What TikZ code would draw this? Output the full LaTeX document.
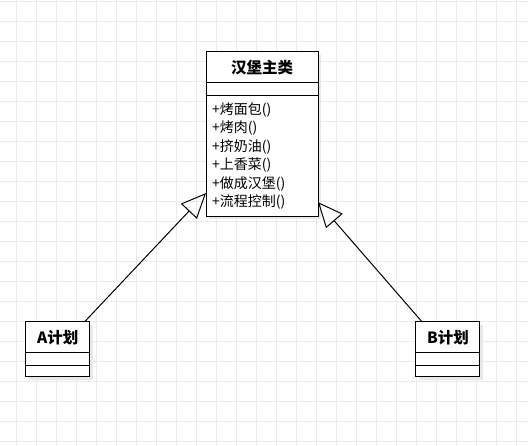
\documentclass[tikz,border=0pt]{standalone}
\usepackage{fontspec}
\setmainfont{Noto Sans CJK SC}
\usetikzlibrary{positioning,arrows.meta,backgrounds}

\begin{document}
\begin{tikzpicture}[x=1pt, y=-1pt, >={Triangle[open,length=25pt,width=22pt]},
  box/.style={draw, line width=1pt, fill=white, outer sep=0pt, inner sep=0pt},
  classtitle/.style={box, font=\fontsize{15.5}{18}\selectfont\bfseries, minimum height=31pt},
  part/.style={box, minimum height=13pt},
  gridline/.style={draw=black!8, line width=1pt},
  shadowbox/.style={fill=black!9}]
\useasboundingbox (0,0) rectangle (528,446);

% main class
\node (maintitle) [classtitle, minimum width=112pt] at (262,67.3) {汉堡主类};
\node (mainattr) [part, minimum width=112pt, below=0pt of maintitle] {};
\node (mainops) [part, below=0pt of mainattr, minimum height=120.3pt, text width=100pt,
  inner xsep=6pt, align=left, font=\fontsize{14}{18.4}\selectfont]
  {+烤面包()\\+烤肉()\\+挤奶油()\\+上香菜()\\+做成汉堡()\\+流程控制()};

% plans
\node (atitle) [classtitle, minimum width=64pt] at (57.7,337.2) {A计划};
\node (aattr) [part, minimum width=64pt, below=0pt of atitle] {};
\node (aops) [part, minimum width=64pt, minimum height=11pt, below=0pt of aattr] {};

\node (btitle) [classtitle, minimum width=64pt] at (447.9,337.2) {B计划};
\node (battr) [part, minimum width=64pt, below=0pt of btitle] {};
\node (bops) [part, minimum width=64pt, minimum height=11pt, below=0pt of battr] {};

\begin{pgfonlayer}{background}
\foreach \x in {16,36,...,516} \draw[gridline] (\x,0) -- (\x,446);
\foreach \y in {2,22,...,442} \draw[gridline] (0,\y) -- (528,\y);
\fill[shadowbox] ([shift={(3,3)}]maintitle.north west) rectangle ([shift={(3,3)}]mainops.south east);
\fill[shadowbox] ([shift={(3,3)}]atitle.north west) rectangle ([shift={(3,3)}]aops.south east);
\fill[shadowbox] ([shift={(3,3)}]btitle.north west) rectangle ([shift={(3,3)}]bops.south east);
\end{pgfonlayer}

% inheritance
\draw[->, line width=1pt] ([xshift=-5pt]atitle.north east) -- ([yshift=23pt]mainops.south west);
\draw[->, line width=1pt] ([xshift=6pt]btitle.north west) -- ([yshift=14pt]mainops.south east);
\end{tikzpicture}
\end{document}
